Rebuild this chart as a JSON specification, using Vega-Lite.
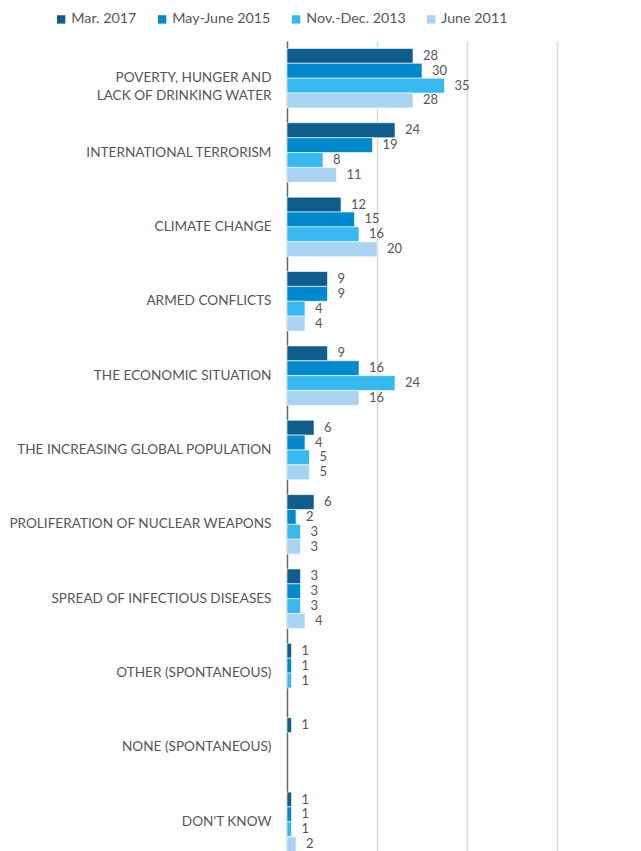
{
  "$schema": "https://vega.github.io/schema/vega-lite/v6.json",
  "autosize": "none",
  "width": 315,
  "height": 818,
  "padding": {"left": 287, "top": 41, "right": 39, "bottom": 0},
  "background": "white",
  "config": {
    "font": "Lato",
    "view": {"stroke": null}
  },
  "data": {
    "values": [
      {"category": "POVERTY, HUNGER AND LACK OF DRINKING WATER", "series": "Mar. 2017", "value": 28},
      {"category": "POVERTY, HUNGER AND LACK OF DRINKING WATER", "series": "May-June 2015", "value": 30},
      {"category": "POVERTY, HUNGER AND LACK OF DRINKING WATER", "series": "Nov.-Dec. 2013", "value": 35},
      {"category": "POVERTY, HUNGER AND LACK OF DRINKING WATER", "series": "June 2011", "value": 28},
      {"category": "INTERNATIONAL TERRORISM", "series": "Mar. 2017", "value": 24},
      {"category": "INTERNATIONAL TERRORISM", "series": "May-June 2015", "value": 19},
      {"category": "INTERNATIONAL TERRORISM", "series": "Nov.-Dec. 2013", "value": 8},
      {"category": "INTERNATIONAL TERRORISM", "series": "June 2011", "value": 11},
      {"category": "CLIMATE CHANGE", "series": "Mar. 2017", "value": 12},
      {"category": "CLIMATE CHANGE", "series": "May-June 2015", "value": 15},
      {"category": "CLIMATE CHANGE", "series": "Nov.-Dec. 2013", "value": 16},
      {"category": "CLIMATE CHANGE", "series": "June 2011", "value": 20},
      {"category": "ARMED CONFLICTS", "series": "Mar. 2017", "value": 9},
      {"category": "ARMED CONFLICTS", "series": "May-June 2015", "value": 9},
      {"category": "ARMED CONFLICTS", "series": "Nov.-Dec. 2013", "value": 4},
      {"category": "ARMED CONFLICTS", "series": "June 2011", "value": 4},
      {"category": "THE ECONOMIC SITUATION", "series": "Mar. 2017", "value": 9},
      {"category": "THE ECONOMIC SITUATION", "series": "May-June 2015", "value": 16},
      {"category": "THE ECONOMIC SITUATION", "series": "Nov.-Dec. 2013", "value": 24},
      {"category": "THE ECONOMIC SITUATION", "series": "June 2011", "value": 16},
      {"category": "THE INCREASING GLOBAL POPULATION", "series": "Mar. 2017", "value": 6},
      {"category": "THE INCREASING GLOBAL POPULATION", "series": "May-June 2015", "value": 4},
      {"category": "THE INCREASING GLOBAL POPULATION", "series": "Nov.-Dec. 2013", "value": 5},
      {"category": "THE INCREASING GLOBAL POPULATION", "series": "June 2011", "value": 5},
      {"category": "PROLIFERATION OF NUCLEAR WEAPONS", "series": "Mar. 2017", "value": 6},
      {"category": "PROLIFERATION OF NUCLEAR WEAPONS", "series": "May-June 2015", "value": 2},
      {"category": "PROLIFERATION OF NUCLEAR WEAPONS", "series": "Nov.-Dec. 2013", "value": 3},
      {"category": "PROLIFERATION OF NUCLEAR WEAPONS", "series": "June 2011", "value": 3},
      {"category": "SPREAD OF INFECTIOUS DISEASES", "series": "Mar. 2017", "value": 3},
      {"category": "SPREAD OF INFECTIOUS DISEASES", "series": "May-June 2015", "value": 3},
      {"category": "SPREAD OF INFECTIOUS DISEASES", "series": "Nov.-Dec. 2013", "value": 3},
      {"category": "SPREAD OF INFECTIOUS DISEASES", "series": "June 2011", "value": 4},
      {"category": "OTHER (SPONTANEOUS)", "series": "Mar. 2017", "value": 1},
      {"category": "OTHER (SPONTANEOUS)", "series": "May-June 2015", "value": 1},
      {"category": "OTHER (SPONTANEOUS)", "series": "Nov.-Dec. 2013", "value": 1},
      {"category": "NONE (SPONTANEOUS)", "series": "Mar. 2017", "value": 1},
      {"category": "DON'T KNOW", "series": "Mar. 2017", "value": 1},
      {"category": "DON'T KNOW", "series": "May-June 2015", "value": 1},
      {"category": "DON'T KNOW", "series": "Nov.-Dec. 2013", "value": 1},
      {"category": "DON'T KNOW", "series": "June 2011", "value": 2}
    ]
  },
  "encoding": {
    "y": {
      "field": "category",
      "type": "nominal",
      "sort": ["POVERTY, HUNGER AND LACK OF DRINKING WATER", "INTERNATIONAL TERRORISM", "CLIMATE CHANGE", "ARMED CONFLICTS", "THE ECONOMIC SITUATION", "THE INCREASING GLOBAL POPULATION", "PROLIFERATION OF NUCLEAR WEAPONS", "SPREAD OF INFECTIOUS DISEASES", "OTHER (SPONTANEOUS)", "NONE (SPONTANEOUS)", "DON'T KNOW"],
      "scale": {"paddingInner": 0.2, "paddingOuter": 0.1},
      "axis": {
        "title": null,
        "ticks": false,
        "labelPadding": 16,
        "labelFont": "Lato",
        "labelFontSize": 13.6,
        "labelColor": "#5a5555",
        "labelLimit": 300,
        "labelLineHeight": 18,
        "domainColor": "#6b6363",
        "domainWidth": 1.5,
        "labelExpr": "datum.value == 'POVERTY, HUNGER AND LACK OF DRINKING WATER' ? ['POVERTY,  HUNGER AND', 'LACK OF DRINKING WATER'] : datum.value == 'NONE (SPONTANEOUS)' ? 'NONE (SPONTANEOUS)    ' : datum.value"
      }
    },
    "yOffset": {
      "field": "series",
      "type": "nominal",
      "sort": ["Mar. 2017", "May-June 2015", "Nov.-Dec. 2013", "June 2011"],
      "scale": {"paddingInner": 0, "paddingOuter": 0}
    },
    "x": {
      "field": "value",
      "type": "quantitative",
      "scale": {"domain": [0, 70]},
      "axis": {
        "title": null,
        "labels": false,
        "ticks": false,
        "domain": false,
        "values": [20, 40, 60],
        "gridColor": "#d9d9d9",
        "gridWidth": 1.5
      }
    }
  },
  "layer": [
    {
      "mark": {"type": "bar", "stroke": "white", "strokeWidth": 0.6},
      "encoding": {
        "color": {
          "field": "series",
          "type": "nominal",
          "sort": ["Mar. 2017", "May-June 2015", "Nov.-Dec. 2013", "June 2011"],
          "scale": {
            "domain": ["Mar. 2017", "May-June 2015", "Nov.-Dec. 2013", "June 2011"],
            "range": ["#0E5D8C", "#0089CC", "#38B8F0", "#A9D3F2"]
          },
          "legend": {
            "title": null,
            "orient": "none",
            "legendX": -233,
            "legendY": -29,
            "direction": "horizontal",
            "symbolType": "square",
            "symbolSize": 70,
            "symbolStrokeWidth": 0,
            "labelFont": "Lato",
            "labelFontSize": 14.3,
            "labelColor": "#5a5555",
            "columnPadding": 18,
            "labelOffset": 3
          }
        }
      }
    },
    {
      "mark": {"type": "text", "align": "left", "dx": 10, "font": "Lato", "fontSize": 13, "color": "#5a5555"},
      "encoding": {
        "text": {"field": "value", "type": "quantitative"}
      }
    }
  ]
}
